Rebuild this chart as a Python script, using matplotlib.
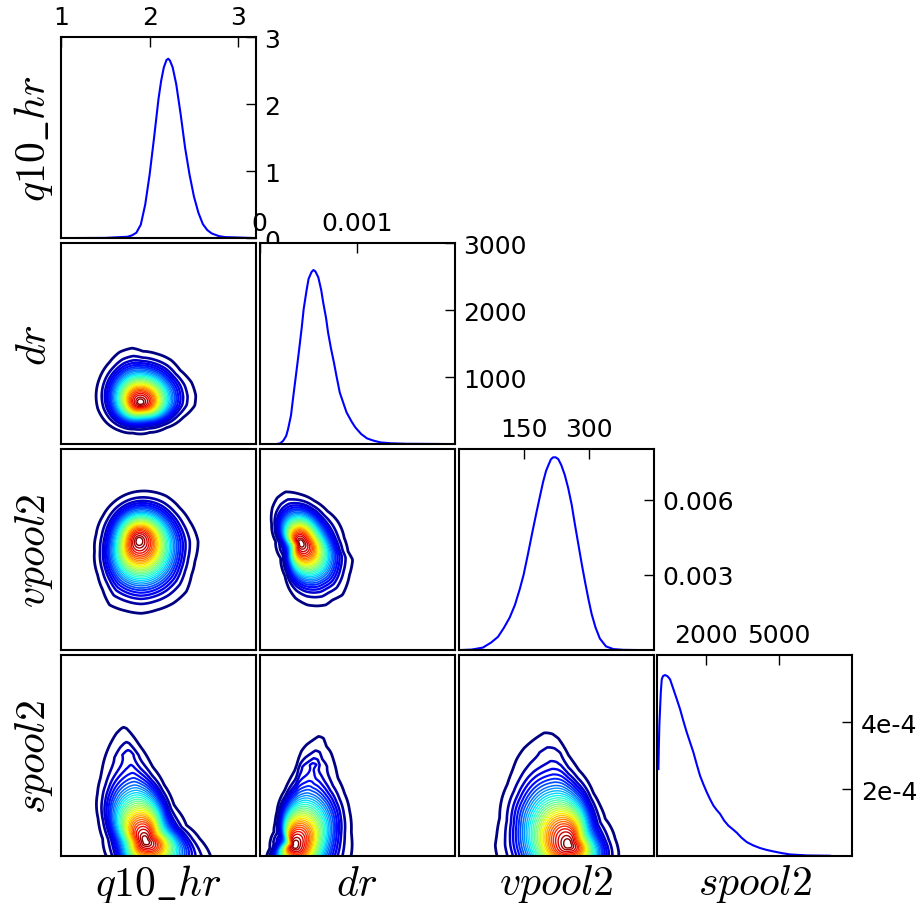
import numpy as np
import matplotlib
matplotlib.use('Agg')
import matplotlib.pyplot as plt

plt.rcParams['font.family'] = 'DejaVu Sans'
plt.rcParams['mathtext.fontset'] = 'cm'

names = [r'$q10\_hr$', r'$dr$', r'$vpool2$', r'$spool2$']

# --- marginal densities (diagonal) ---
q10_x = [1.0, 1.5, 1.75, 1.8, 1.85, 1.9, 1.95, 2.0, 2.05, 2.1, 2.13, 2.16, 2.19, 2.21,
         2.23, 2.26, 2.3, 2.35, 2.4, 2.45, 2.5, 2.55, 2.6, 2.65, 2.7, 2.78, 2.85, 3.2]
q10_y = [0.0, 0.003, 0.02, 0.04, 0.08, 0.2, 0.5, 0.95, 1.5, 2.08, 2.35, 2.55, 2.66, 2.68,
         2.65, 2.55, 2.3, 1.85, 1.35, 0.95, 0.62, 0.38, 0.21, 0.12, 0.07, 0.03, 0.015, 0.0]

dr_x = [0.0, 0.00017, 0.00021, 0.00024, 0.00027, 0.00029, 0.00032, 0.00034, 0.00037,
        0.0004, 0.00043, 0.00045, 0.00048, 0.0005, 0.00053, 0.00055, 0.00057, 0.0006,
        0.00063, 0.00065, 0.00068, 0.0007, 0.00073, 0.00076, 0.00079, 0.00082, 0.00086,
        0.00089, 0.00094, 0.00098, 0.00104, 0.0011, 0.00117, 0.00124, 0.00135, 0.0015,
        0.002]
dr_y = [0.0, 0.0, 12, 50, 120, 224, 430, 673, 1020, 1370, 1740, 2018, 2300, 2467,
        2570, 2601, 2580, 2492, 2300, 2118, 1880, 1669, 1430, 1221, 990, 772, 600,
        473, 340, 249, 150, 85, 50, 25, 12, 5, 0.0]

vp_x = [2, 30, 56, 75, 91, 105, 118, 130, 141, 150, 160, 170, 180, 188, 195, 202,
        208, 213, 218, 224, 230, 237, 245, 253, 261, 268, 276, 284, 292, 300, 307,
        316, 326, 340, 357, 380, 419]
vp_y = [0.0, 0.00002, 0.0001, 0.0003, 0.00053, 0.0009, 0.0013, 0.0018, 0.00242,
        0.003, 0.00382, 0.00468, 0.00551, 0.00615, 0.0067, 0.00715, 0.0074, 0.0076,
        0.00768, 0.00768, 0.00761, 0.00737, 0.00698, 0.00645, 0.00579, 0.00505,
        0.00425, 0.00345, 0.0027, 0.002, 0.00144, 0.0009, 0.00046, 0.00015, 0.00004,
        0.00001, 0.0]

sp_x = [41, 60, 80, 109, 140, 178, 230, 315, 420, 520, 656, 790, 930, 1060, 1203,
        1340, 1477, 1610, 1750, 1890, 2024, 2160, 2297, 2430, 2571, 2740, 2913,
        3080, 3255, 3450, 3665, 3930, 4212, 4480, 4759, 5100, 5443, 6126, 7084]
sp_y = [2.6e-4, 3.3e-4, 3.9e-4, 4.39e-4, 4.9e-4, 5.28e-4, 5.38e-4, 5.41e-4, 5.37e-4,
        5.28e-4, 4.99e-4, 4.7e-4, 4.39e-4, 4.05e-4, 3.7e-4, 3.4e-4, 3.1e-4, 2.75e-4,
        2.4e-4, 2.14e-4, 1.91e-4, 1.7e-4, 1.51e-4, 1.38e-4, 1.26e-4, 1.06e-4, 9.1e-5,
        8.1e-5, 7.0e-5, 5.5e-5, 4.2e-5, 3.2e-5, 2.4e-5, 1.85e-5, 1.4e-5, 9e-6, 5e-6,
        2e-6, 1e-6]

diag_curves = [(q10_x, q10_y), (dr_x, dr_y), (vp_x, vp_y), (sp_x, sp_y)]
diag_xlim = [(1, 3.2), (0, 0.002), (0, 450), (0, 8000)]
diag_ylim = [(0, 3), (0, 3000), (0, 0.008), (0, 6e-4)]
diag_xticks = [[1, 2, 3], [0, 0.001], [150, 300], [2000, 5000]]
diag_xticklabels = [['1', '2', '3'], ['0', '0.001'], ['150', '300'], ['2000', '5000']]
diag_yticks = [[0, 1, 2, 3], [1000, 2000, 3000], [0.003, 0.006], [2e-4, 4e-4]]
diag_yticklabels = [['0', '1', '2', '3'], ['1000', '2000', '3000'],
                    ['0.003', '0.006'], ['2e-4', '4e-4']]

# --- joint densities (lower triangle), panel-fraction coordinates ---
# peak position and outermost contour for each pair (row, col)
peaks = {
    (1, 0): (0.407, 0.208),
    (2, 0): (0.400, 0.545),
    (2, 1): (0.210, 0.533),
    (3, 0): (0.434, 0.073),
    (3, 1): (0.179, 0.053),
    (3, 2): (0.564, 0.056),
}
edges = {
    (1, 0): [(0.365, 0.478), (0.300, 0.458), (0.249, 0.408), (0.197, 0.325),
             (0.180, 0.242), (0.189, 0.175), (0.232, 0.108), (0.300, 0.067),
             (0.369, 0.055), (0.455, 0.058), (0.540, 0.083), (0.626, 0.133),
             (0.686, 0.192), (0.691, 0.242), (0.669, 0.308), (0.609, 0.367),
             (0.566, 0.417), (0.489, 0.450), (0.420, 0.462)],
    (2, 0): [(0.412, 0.792), (0.334, 0.775), (0.266, 0.733), (0.214, 0.667),
             (0.180, 0.575), (0.172, 0.492), (0.189, 0.375), (0.214, 0.300),
             (0.249, 0.225), (0.334, 0.195), (0.412, 0.183), (0.489, 0.200),
             (0.575, 0.233), (0.643, 0.292), (0.669, 0.375), (0.686, 0.442),
             (0.703, 0.542), (0.660, 0.642), (0.609, 0.708), (0.540, 0.767),
             (0.472, 0.788)],
    (2, 1): [(0.132, 0.788), (0.089, 0.758), (0.064, 0.708), (0.064, 0.625),
             (0.081, 0.542), (0.107, 0.458), (0.132, 0.375), (0.149, 0.308),
             (0.184, 0.258), (0.244, 0.225), (0.296, 0.220), (0.338, 0.225),
             (0.373, 0.250), (0.424, 0.275), (0.459, 0.375), (0.476, 0.450),
             (0.450, 0.492), (0.433, 0.558), (0.399, 0.642), (0.347, 0.692),
             (0.278, 0.742), (0.210, 0.775)],
    (3, 0): [(0.317, 0.643), (0.283, 0.610), (0.249, 0.551), (0.223, 0.485),
             (0.206, 0.385), (0.197, 0.302), (0.197, 0.186), (0.214, 0.086),
             (0.232, 0.000), (0.266, -0.113), (0.489, -0.146), (0.712, -0.113),
             (0.772, -0.013), (0.755, 0.028), (0.712, 0.086), (0.643, 0.153),
             (0.575, 0.252), (0.523, 0.336), (0.472, 0.435), (0.403, 0.551),
             (0.360, 0.610), (0.334, 0.638)],
    (3, 1): [(0.304, 0.598), (0.270, 0.576), (0.235, 0.551), (0.210, 0.518),
             (0.184, 0.435), (0.158, 0.385), (0.132, 0.302), (0.098, 0.203),
             (0.072, 0.120), (0.052, 0.037), (0.038, -0.080), (0.227, -0.146),
             (0.433, -0.096), (0.471, 0.020), (0.467, 0.120), (0.450, 0.219),
             (0.424, 0.302), (0.399, 0.385), (0.381, 0.468), (0.364, 0.518),
             (0.338, 0.551), (0.330, 0.585)],
    (3, 2): [(0.441, 0.615), (0.393, 0.585), (0.333, 0.535), (0.299, 0.485),
             (0.274, 0.419), (0.256, 0.352), (0.231, 0.286), (0.222, 0.186),
             (0.197, 0.103), (0.188, 0.053), (0.197, 0.000), (0.205, -0.096),
             (0.513, -0.146), (0.803, -0.096), (0.821, 0.020), (0.803, 0.086),
             (0.752, 0.186), (0.684, 0.302), (0.615, 0.419), (0.564, 0.502),
             (0.513, 0.585), (0.479, 0.610)],
}

# contour levels as fraction of the outer contour, outer -> inner
ring_frac = [1.00, 0.87, 0.80, 0.755, 0.715, 0.68, 0.65, 0.62, 0.595, 0.57,
             0.546, 0.523, 0.50, 0.478, 0.457, 0.436, 0.415, 0.395, 0.375, 0.355,
             0.335, 0.315, 0.294, 0.273, 0.25, 0.226, 0.201, 0.172, 0.139, 0.10,
             0.065]


def ring_field(X, Y, peak, edge):
    """Radial fraction of the outer contour, measured from the peak."""
    ex, ey = np.asarray(edge).T
    ang = np.arctan2(ey - peak[1], ex - peak[0])
    rad = np.hypot(ex - peak[0], ey - peak[1])
    order = np.argsort(ang)
    ang, rad = ang[order], rad[order]
    theta = np.linspace(-np.pi, np.pi, 256, endpoint=False)
    r_raw = np.interp(theta, ang, rad, period=2 * np.pi)
    spec = np.fft.rfft(r_raw)
    spec[4:] = 0
    spec[3] *= 0.6
    r_smooth = np.fft.irfft(spec, n=theta.size)
    t = np.arctan2(Y - peak[1], X - peak[0])
    d = np.hypot(X - peak[0], Y - peak[1])
    s_raw = d / np.interp(t, theta, r_raw, period=2 * np.pi)
    s_smooth = d / np.interp(t, theta, r_smooth, period=2 * np.pi)
    w = np.clip(s_smooth, 0, 1) ** 4
    return w * s_raw + (1 - w) * s_smooth


fig = plt.figure(figsize=(9.2, 9.04), dpi=100)
W, H = 920.0, 904.0
left_px = [61, 259.8, 458.6, 657.4]
top_px = [38.3, 244.3, 450.3, 656.3]
pw, ph = 195.0, 200.8

gx = np.linspace(-0.02, 1.02, 420)
gy = np.linspace(-0.2, 1.02, 480)
GX, GY = np.meshgrid(gx, gy)

jet = plt.get_cmap('jet')
n = len(ring_frac)
ring_colors = [jet(i / (n - 1)) for i in range(n)]
ring_widths = [2.0, 1.9, 1.8, 1.7, 1.55, 1.4, 1.25, 1.1] + [1.0] * (n - 8)

for i in range(4):
    for j in range(i + 1):
        ax = fig.add_axes([left_px[j] / W, 1 - (top_px[i] + ph) / H, pw / W, ph / H])
        for sp in ax.spines.values():
            sp.set_linewidth(1.5)
        if i == j:
            x, y = diag_curves[i]
            ax.plot(x, y, color='#0000ff', lw=1.5)
            ax.set_xlim(diag_xlim[i])
            ax.set_ylim(diag_ylim[i])
            ax.xaxis.tick_top()
            ax.yaxis.tick_right()
            ax.set_xticks(diag_xticks[i])
            ax.set_xticklabels(diag_xticklabels[i])
            ax.set_yticks(diag_yticks[i])
            ax.set_yticklabels(diag_yticklabels[i])
            ax.tick_params(direction='in', length=7, width=1, labelsize=18, pad=6)
            ax.xaxis.set_label_position('bottom')
            ax.yaxis.set_label_position('left')
        else:
            S = ring_field(GX, GY, peaks[(i, j)], edges[(i, j)])
            ax.contour(GX, GY, S, levels=ring_frac[::-1],
                       colors=ring_colors[::-1], linewidths=ring_widths[::-1])
            ax.set_xlim(0, 1)
            ax.set_ylim(0, 1)
            ax.set_xticks([])
            ax.set_yticks([])
        if j == 0:
            ax.set_ylabel(names[i], fontsize=30, labelpad=4)
        if i == 3:
            ax.set_xlabel(names[j], fontsize=30, labelpad=4)

plt.savefig('out.png', dpi=100)
plt.close()
